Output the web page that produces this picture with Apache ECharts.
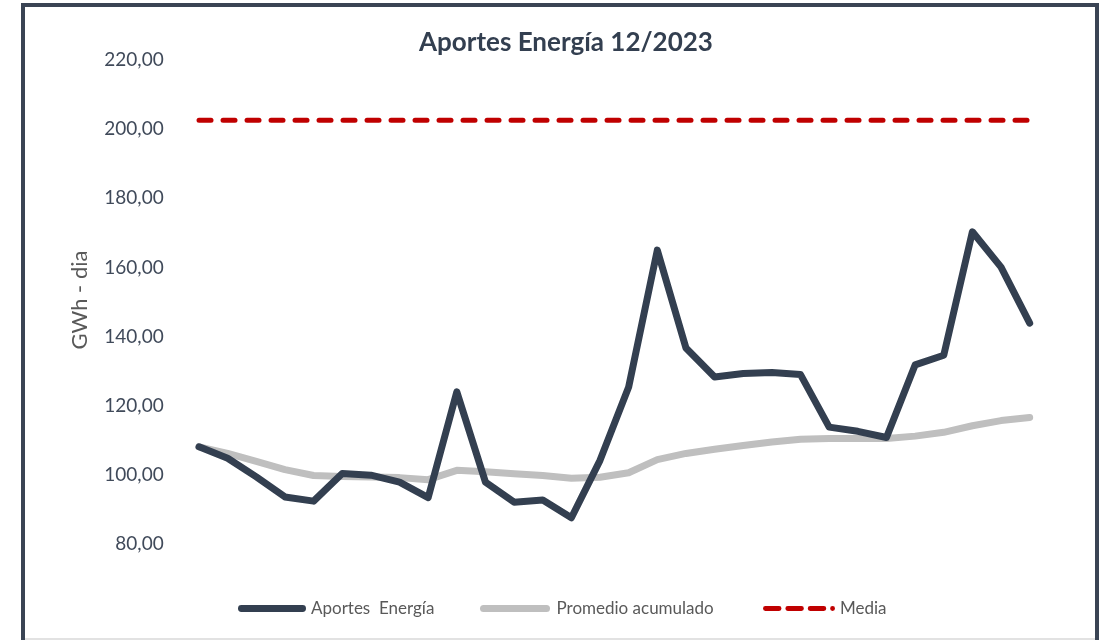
<!DOCTYPE html>
<html>
<head>
<meta charset="utf-8">
<script src="https://cdn.jsdelivr.net/npm/echarts@6/dist/echarts.min.js"></script>
<style>
html,body{margin:0;padding:0;background:#fff;}
#chart{width:1102px;height:640px;}
</style>
</head>
<body>
<div id="chart"></div>
<script>
// Days of December 2023
var days = ['1','2','3','4','5','6','7','8','9','10','11','12','13','14','15','16','17','18','19','20','21','22','23','24','25','26','27','28','29','30'];
// Aportes Energía (GWh-día)
var aportes = [108.1, 104.8, 99.4, 93.6, 92.4, 100.4, 99.9, 97.9, 93.4, 124.0, 97.9, 92.1, 92.7, 87.6, 104.2, 125.4, 165.0, 136.7, 128.3, 129.3, 129.6, 129.0, 113.8, 112.6, 110.8, 131.8, 134.6, 170.3, 160.1, 143.9];
// Promedio acumulado
var promedio = [108.1, 106.2, 103.9, 101.5, 99.8, 99.5, 99.4, 99.2, 98.6, 101.3, 100.9, 100.3, 99.8, 99.0, 99.3, 100.6, 104.4, 106.2, 107.4, 108.5, 109.5, 110.3, 110.5, 110.5, 110.5, 111.2, 112.3, 114.2, 115.7, 116.6];
// Media
var media = [202.6, 202.6, 202.6, 202.6, 202.6, 202.6, 202.6, 202.6, 202.6, 202.6, 202.6, 202.6, 202.6, 202.6, 202.6, 202.6, 202.6, 202.6, 202.6, 202.6, 202.6, 202.6, 202.6, 202.6, 202.6, 202.6, 202.6, 202.6, 202.6, 202.6];
var yMin = 80, yMax = 220, yStep = 20;

var chart = echarts.init(document.getElementById('chart'), null, {renderer: 'canvas'});
var FONT = 'Lato, "Noto Sans", sans-serif';
var legendText = {fontFamily: FONT, fontSize: 17, color: '#595959'};
var solidIcon = 'path://M3.5,0H66.5A3.5,3.5,0,0,1,66.5,7H3.5A3.5,3.5,0,0,1,3.5,0Z';
var dashIcon = 'path://M2.5,0H16.5A2.5,2.5,0,0,1,16.5,5H2.5A2.5,2.5,0,0,1,2.5,0Z' +
  'M25.5,0H39.5A2.5,2.5,0,0,1,39.5,5H25.5A2.5,2.5,0,0,1,25.5,0Z' +
  'M48.5,0H62.5A2.5,2.5,0,0,1,62.5,5H48.5A2.5,2.5,0,0,1,48.5,0Z' +
  'M71.5,0A2.5,2.5,0,0,1,71.5,5A2.5,2.5,0,0,1,71.5,0Z';
var option = {
  backgroundColor: '#ffffff',
  animation: false,
  title: {
    text: 'Aportes Energía 12/2023',
    left: 561, top: 25, textAlign: 'center',
    textStyle: {fontFamily: FONT, fontSize: 26, fontWeight: 'bold', color: '#333f50'}
  },
  grid: {left: 184.7, right: 58, top: 60, bottom: 96, containLabel: false},
  legend: [
    {data: [{name: 'Aportes  Energía', icon: solidIcon}], left: 238, top: 600, padding: 0, itemWidth: 68, itemHeight: 7,
     itemStyle: {borderWidth: 0}, textStyle: legendText},
    {data: [{name: 'Promedio acumulado', icon: solidIcon}], left: 480, top: 600, padding: 0, itemWidth: 73, itemHeight: 7,
     itemStyle: {borderWidth: 0}, textStyle: legendText},
    {data: [{name: 'Media', icon: dashIcon}], left: 763, top: 600, padding: 0, itemWidth: 72, itemHeight: 5,
     itemStyle: {borderWidth: 0}, textStyle: legendText}
  ],
  xAxis: {
    type: 'category', data: days, boundaryGap: true,
    axisLine: {show: false}, axisTick: {show: false}, axisLabel: {show: false}, splitLine: {show: false}
  },
  yAxis: {
    type: 'value', min: yMin, max: yMax, interval: yStep,
    axisLine: {show: false}, axisTick: {show: false}, splitLine: {show: false},
    axisLabel: {
      margin: 21, fontFamily: FONT, fontSize: 19, color: '#404a5a',
      formatter: function (v) { return v.toFixed(2).replace('.', ','); }
    }
  },
  graphic: [
    {type: 'polyline', shape: {points: [[23, 642], [23, 5], [1097, 5], [1097, 642]]},
     style: {stroke: '#3a4454', lineWidth: 4, fill: null}, silent: true},
    {type: 'line', shape: {x1: 25, y1: 639, x2: 1095, y2: 639},
     style: {stroke: '#d9d9d9', lineWidth: 1.5}, silent: true},
    {type: 'text', x: 80, y: 300, rotation: Math.PI / 2,
     style: {text: 'GWh - dia', fontFamily: FONT, fontSize: 22, fill: '#595959', align: 'center', verticalAlign: 'middle'}}
  ],
  series: [
    {name: 'Promedio acumulado', type: 'line', data: promedio, symbol: 'none', z: 2,
     lineStyle: {color: '#bfbfbf', width: 7, cap: 'round', join: 'round'}, itemStyle: {color: '#bfbfbf'}},
    {name: 'Aportes  Energía', type: 'line', data: aportes, symbol: 'none', z: 3,
     lineStyle: {color: '#333f50', width: 7, cap: 'round', join: 'round'}, itemStyle: {color: '#333f50'}},
    {name: 'Media', type: 'line', data: media, symbol: 'none', z: 4,
     lineStyle: {color: '#c00000', width: 5, type: [12, 12], cap: 'round'}, itemStyle: {color: '#c00000'}}
  ]
};
chart.setOption(option);
</script>
</body>
</html>
